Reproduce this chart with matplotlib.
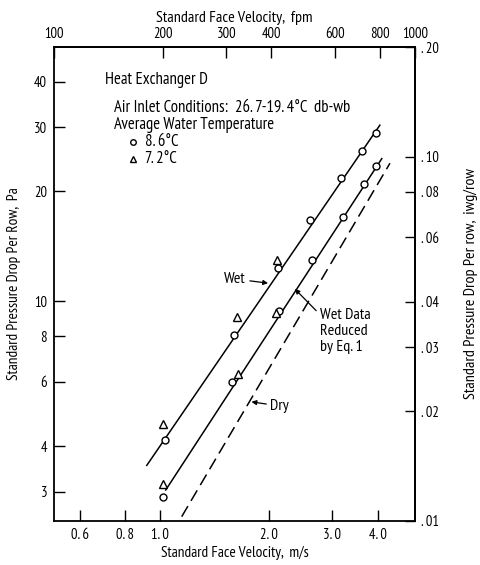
# -*- coding: utf-8 -*-
"""
Heat exchanger D: standard pressure drop per row vs standard face velocity
(log-log, SI units bottom/left, fpm and iwg top/right)
"""

import matplotlib
matplotlib.use('Agg')
from matplotlib import pyplot as plt
from matplotlib.ticker import NullLocator, FixedLocator, FixedFormatter

plt.rcParams['font.family'] = ['PT Sans Narrow', 'DejaVu Sans']
plt.rcParams['font.size'] = 10.5

### Data
# Wet, 8.6 C water
wet_86_v = [1.03, 1.60, 2.12, 2.60, 3.16, 3.63, 3.96]
wet_86_dp = [4.15, 8.05, 12.3, 16.7, 21.8, 25.8, 29.0]
# Wet, 7.2 C water
wet_72_v = [1.02, 1.63, 2.10]
wet_72_dp = [4.6, 9.05, 13.0]
# Wet data reduced by Eq. 1, 8.6 C
red_86_v = [1.02, 1.585, 2.13, 2.63, 3.20, 3.67, 3.96]
red_86_dp = [2.9, 6.0, 9.4, 12.95, 17.0, 20.9, 23.5]
# Wet data reduced by Eq. 1, 7.2 C
red_72_v = [1.02, 1.64, 2.09]
red_72_dp = [3.15, 6.3, 9.25]
# fitted lines (end points)
wet_line_v = [0.918, 4.06]
wet_line_dp = [3.54, 30.4]
red_line_v = [1.036, 4.11]
red_line_dp = [3.03, 24.6]
dry_line_v = [1.147, 4.33]
dry_line_dp = [2.56, 23.9]

# axis ticks
ms_ticks = [0.6, 0.8, 1.0, 2.0, 3.0, 4.0]
ms_labels = ['0. 6', '0. 8', '1. 0', '2. 0', '3. 0', '4. 0']
pa_ticks = [3, 4, 6, 8, 10, 20, 30, 40]
pa_labels = ['3', '4', '6', '8', '10', '20', '30', '40']
fpm_ticks = [100, 200, 300, 400, 600, 800, 1000]
fpm_labels = ['100', '200', '300', '400', '600', '800', '1000']
iwg_ticks = [0.01, 0.02, 0.03, 0.04, 0.06, 0.08, 0.10, 0.20]
iwg_labels = ['. 01', '. 02', '. 03', '. 04', '. 06', '. 08', '. 10', '. 20']

FPM_PER_MS = 196.85
PA_PER_IWG = 249.09


def ms_to_fpm(x):
    return x * FPM_PER_MS


def fpm_to_ms(x):
    return x / FPM_PER_MS


def pa_to_iwg(y):
    return y / PA_PER_IWG


def iwg_to_pa(y):
    return y * PA_PER_IWG


### Make Figure
fig = plt.figure(figsize=(4.8, 5.65), dpi=100)
ax = fig.add_axes([0.1125, 0.0779, 0.7521, 0.8389])
ax.set_xscale('log')
ax.set_yscale('log')
ax.set_xlim(100 / FPM_PER_MS, 1000 / FPM_PER_MS)
ax.set_ylim(0.01 * PA_PER_IWG, 0.20 * PA_PER_IWG)

# lines
ax.plot(wet_line_v, wet_line_dp, color='black', lw=1.1)
ax.plot(red_line_v, red_line_dp, color='black', lw=1.1)
ax.plot(dry_line_v, dry_line_dp, color='black', lw=1.1, dashes=(8, 4))

# data points
mk = dict(ls='none', color='black', mfc='white', mew=1.0, zorder=3)
ax.plot(wet_86_v, wet_86_dp, marker='o', ms=5, **mk)
ax.plot(red_86_v, red_86_dp, marker='o', ms=5, **mk)
ax.plot(wet_72_v, wet_72_dp, marker='^', ms=5.5, **mk)
ax.plot(red_72_v, red_72_dp, marker='^', ms=5.5, **mk)

# annotations
arw = dict(arrowstyle='-|>', color='black', lw=0.9, mutation_scale=7, shrinkA=1, shrinkB=0)
ax.annotate('Wet', xy=(1.99, 11.2), xytext=(1.61, 11.5), ha='center', va='center',
            fontsize=11.5, arrowprops=arw)
arw2 = dict(arw, relpos=(0.0, 0.85))
ax.annotate('Wet Data\nReduced\nby Eq. 1', xy=(2.36, 10.8), xytext=(2.77, 9.6),
            ha='left', va='top', linespacing=1.2, fontsize=11.5, arrowprops=arw2)
ax.annotate('Dry', xy=(1.79, 5.29), xytext=(2.02, 5.15), ha='left', va='center',
            fontsize=11.5, arrowprops=arw)

# legend-like text block
tx = ax.transAxes
fs = 12
ax.text(0.141, 0.930, 'Heat Exchanger D', transform=tx, va='center', ha='left', fontsize=fs)
ax.text(0.166, 0.873, 'Air Inlet Conditions:  26. 7-19. 4°C  db-wb', transform=tx,
        va='center', ha='left', fontsize=fs)
ax.text(0.166, 0.836, 'Average Water Temperature', transform=tx, va='center', ha='left',
        fontsize=fs)
ax.plot([0.219], [0.800], transform=tx, marker='o', ms=4, **mk)
ax.text(0.252, 0.800, '8. 6°C', transform=tx, va='center', ha='left', fontsize=fs)
ax.plot([0.219], [0.764], transform=tx, marker='^', ms=4.5, **mk)
ax.text(0.252, 0.764, '7. 2°C', transform=tx, va='center', ha='left', fontsize=fs)

# primary axes ticks
ax.xaxis.set_major_locator(FixedLocator(ms_ticks))
ax.xaxis.set_major_formatter(FixedFormatter(ms_labels))
ax.xaxis.set_minor_locator(NullLocator())
ax.yaxis.set_major_locator(FixedLocator(pa_ticks))
ax.yaxis.set_major_formatter(FixedFormatter(pa_labels))
ax.yaxis.set_minor_locator(NullLocator())
ax.tick_params(direction='in', length=8, width=1.0, labelsize=10.5, pad=5)
ax.set_xlabel('Standard Face Velocity,  m/s', fontsize=11, labelpad=3)
ax.set_ylabel('Standard Pressure Drop Per Row,  Pa', fontsize=11, labelpad=9)

# secondary axes
secx = ax.secondary_xaxis('top', functions=(ms_to_fpm, fpm_to_ms))
secx.xaxis.set_major_locator(FixedLocator(fpm_ticks))
secx.xaxis.set_major_formatter(FixedFormatter(fpm_labels))
secx.xaxis.set_minor_locator(NullLocator())
secx.tick_params(direction='in', length=8, width=1.0, labelsize=10.5, pad=4)
secx.set_xlabel('Standard Face Velocity,  fpm', fontsize=11.5, labelpad=4)

secy = ax.secondary_yaxis('right', functions=(pa_to_iwg, iwg_to_pa))
secy.yaxis.set_major_locator(FixedLocator(iwg_ticks))
secy.yaxis.set_major_formatter(FixedFormatter(iwg_labels))
secy.yaxis.set_minor_locator(NullLocator())
secy.tick_params(direction='in', length=7, width=1.0, labelsize=10.5, pad=4)
secy.set_ylabel('Standard Pressure Drop Per row,  iwg/row', fontsize=11.5, labelpad=18)

for a in (ax, secx, secy):
    for s in a.spines.values():
        s.set_linewidth(1.3)

plt.savefig('out.png', dpi=100)
